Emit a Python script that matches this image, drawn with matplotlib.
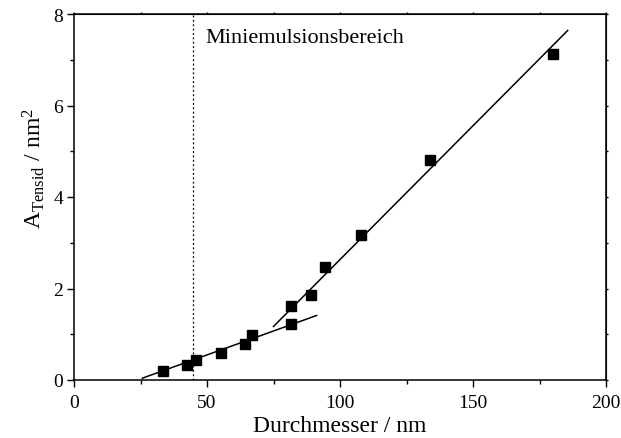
import matplotlib
matplotlib.use("Agg")
import matplotlib.pyplot as plt
from matplotlib.ticker import MultipleLocator, NullFormatter

plt.rcParams['font.family'] = ['Liberation Serif', 'DejaVu Serif']
plt.rcParams['mathtext.fontset'] = 'custom'
plt.rcParams['mathtext.rm'] = 'Liberation Serif'
plt.rcParams['mathtext.it'] = 'Liberation Serif:italic'

# Measured droplet diameters (nm) and surfactant area per molecule (nm^2)
diameter = [33.6, 42.3, 46.0, 55.3, 64.2, 67.1, 81.7, 81.7, 89.0, 94.4, 107.8, 133.7, 180.1]
area = [0.20, 0.32, 0.44, 0.60, 0.79, 0.98, 1.22, 1.62, 1.85, 2.48, 3.18, 4.80, 7.13]

# Linear fits for the two regimes (endpoints of the drawn segments)
fit_low_x = [25.7, 91.2]
fit_low_y = [0.04, 1.41]
fit_high_x = [75.0, 185.6]
fit_high_y = [1.17, 7.64]

mini_limit = 44.7

W, H = 621, 439
fig = plt.figure(figsize=(W / 100, H / 100), dpi=100)
ax = fig.add_axes([74 / W, 1 - 381 / H, (606 - 74) / W, (381 - 15) / H])

ax.plot(fit_low_x, fit_low_y, color='black', lw=1.1)
ax.plot(fit_high_x, fit_high_y, color='black', lw=1.1)
ax.plot(diameter, area, 'ks', ms=6.5, zorder=3)
ax.axvline(mini_limit, color='black', lw=0.9, ls=(0, (1.5, 2.0)))

ax.text(49.3, 7.48, 'Miniemulsionsbereich', fontsize=16, va='center', ha='left')

ax.set_xlim(0, 200)
ax.set_ylim(0, 8)
ax.xaxis.set_major_locator(MultipleLocator(50))
ax.xaxis.set_minor_locator(MultipleLocator(25))
ax.yaxis.set_major_locator(MultipleLocator(2))
ax.yaxis.set_minor_locator(MultipleLocator(1))
ax.tick_params(which='both', direction='out', labelsize=14, width=1)
ax.tick_params(which='major', length=5, pad=3)
ax.tick_params(axis='x', which='major', pad=5)
ax.tick_params(which='minor', length=3)
for s in ax.spines.values():
    s.set_linewidth(1.1)

# short tick marks on the top and right frame
top = ax.secondary_xaxis('top')
top.xaxis.set_major_locator(MultipleLocator(25))
top.xaxis.set_major_formatter(NullFormatter())
top.tick_params(direction='out', length=1.5, width=1)
right = ax.secondary_yaxis('right')
right.yaxis.set_major_locator(MultipleLocator(1))
right.yaxis.set_major_formatter(NullFormatter())
right.tick_params(direction='out', length=1.5, width=1)

ax.set_xlabel('Durchmesser / nm', fontsize=17, labelpad=3)
ax.set_ylabel(r'A$_{\mathrm{Tensid}}$ / nm$^{2}$', fontsize=17)
ax.yaxis.set_label_coords(-0.05, 0.58)

fig.savefig('out.png', dpi=100)
